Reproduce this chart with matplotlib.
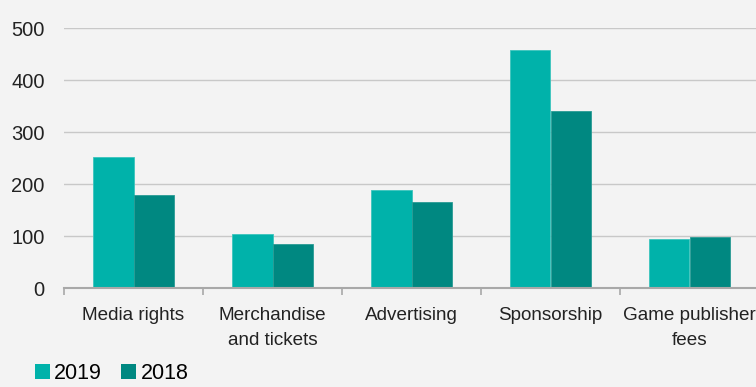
import matplotlib
matplotlib.use('Agg')
import matplotlib.pyplot as plt
from matplotlib.patches import Patch
import numpy as np

plt.rcParams.update({'font.family': 'Liberation Sans', 'font.size': 13.6})

BG, C19, C18, GRID, AXC = '#f3f3f3', '#00b2aa', '#008881', '#c8c8c8', '#a8a8a8'

categories = ['Media rights', 'Merchandise\nand tickets', 'Advertising', 'Sponsorship', 'Game publisher\nfees']
v2019 = [252, 104, 188, 458, 95]
v2018 = [178, 85, 165, 340, 98]

fig = plt.figure(figsize=(7.56, 3.87), dpi=100, facecolor=BG)
ax = fig.add_axes([64/756, 99/387, 695/756, 260/387], facecolor=BG)

x = np.arange(len(categories)); w = 0.288
ax.bar(x - w/2, v2019, w, color=C19, edgecolor='#3cc4bd', linewidth=0.6, zorder=3)
ax.bar(x + w/2, v2018, w, color=C18, edgecolor='#2a9b94', linewidth=0.6, zorder=3)

ax.set_xlim(-0.5, len(categories) - 0.5); ax.set_ylim(0, 500)
ax.set_yticks(range(0, 501, 100))
ax.grid(axis='y', color=GRID, linewidth=1, zorder=0)
for s in ['top', 'right', 'left']:
    ax.spines[s].set_visible(False)
ax.spines['bottom'].set_color(AXC); ax.spines['bottom'].set_linewidth(1.5); ax.spines['bottom'].set_zorder(4)
ax.tick_params(axis='y', length=0, pad=14, labelcolor='#222222', labelsize=14.5)
ax.set_xticks(x)
ax.set_xticklabels(categories, color='#222222', linespacing=1.6)
ax.tick_params(axis='x', which='major', length=0, pad=14)
ax.set_xticks(np.arange(-0.5, len(categories) - 0.4, 1), minor=True)
ax.tick_params(axis='x', which='minor', length=5, width=1.2, color=AXC, direction='out')

fig.legend(handles=[Patch(facecolor=C19, label='2019'), Patch(facecolor=C18, label='2018')],
           loc='upper left', bbox_to_anchor=(26/756, 33/387), ncol=2, frameon=False,
           handlelength=0.7, handleheight=0.7, handletextpad=0.2, columnspacing=0.9,
           borderaxespad=0, fontsize=15.5)

fig.savefig('out.png', dpi=100, facecolor=BG)
